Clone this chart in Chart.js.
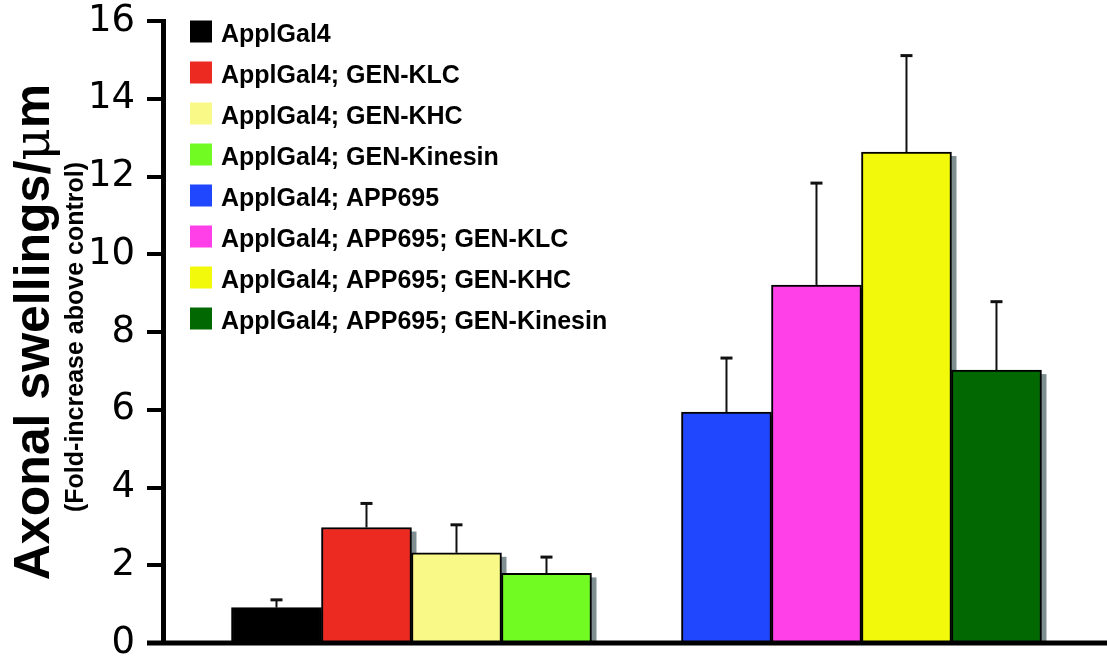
<!DOCTYPE html>
<html>
<head>
<meta charset="utf-8">
<script src="https://cdn.jsdelivr.net/npm/chart.js@4.4.1/dist/chart.umd.min.js"></script>
<style>
  html, body { margin: 0; padding: 0; background: #ffffff; }
  canvas { display: block; }
</style>
</head>
<body>
<canvas id="swellings" width="1107" height="662"></canvas>
<script>
// Genotypes, in the order the bars are drawn
const genotypes = [
  'ApplGal4',
  'ApplGal4; GEN-KLC',
  'ApplGal4; GEN-KHC',
  'ApplGal4; GEN-Kinesin',
  'ApplGal4; APP695',
  'ApplGal4; APP695; GEN-KLC',
  'ApplGal4; APP695; GEN-KHC',
  'ApplGal4; APP695; GEN-Kinesin'
];
// Axonal swellings per µm, fold-increase above control
const swellingMeans = [0.91, 2.97, 2.32, 1.79, 5.94, 9.21, 12.63, 7.02];
// Upper error bar lengths
const swellingErrors = [0.20, 0.62, 0.72, 0.42, 1.39, 2.62, 2.48, 1.76];
const barColors = ['#000000', '#ec2a22', '#f9f987', '#72fa23', '#2046fe', '#ff40e8', '#f2f90a', '#026802'];
const yAxisTitle = 'Axonal swellings/';
const yAxisUnit = ['\u03bc', 'm'];
const yAxisSubtitle = '(Fold-increase above control)';

// Layout: two groups of four bars, one empty slot between them
const GROUP_SIZE = 4;
const GROUP_GAP = 1;
const slotOf = i => i + 1 + Math.floor(i / GROUP_SIZE) * GROUP_GAP;

const AXIS_LEFT = 163;
const TICK_MARK = 16;   // visible tick mark length
const LABEL_GAP = 12;   // space between tick label and tick mark
const SHADOW = '#7f8e91';

const shadowPlugin = {
  id: 'barShadows',
  beforeDatasetsDraw(chart) {
    const ctx = chart.ctx;
    ctx.save();
    ctx.fillStyle = SHADOW;
    chart.getDatasetMeta(0).data.forEach(bar => {
      const { x, y, base, width } = bar.getProps(['x', 'y', 'base', 'width'], true);
      ctx.fillRect(x - width / 2 + 5, y + 4, width, base - y - 4);
    });
    ctx.restore();
  }
};

const errorBarPlugin = {
  id: 'errorBars',
  afterDatasetsDraw(chart) {
    const ctx = chart.ctx;
    const yScale = chart.scales.y;
    ctx.save();
    ctx.strokeStyle = '#111111';
    chart.getDatasetMeta(0).data.forEach((bar, i) => {
      const top = yScale.getPixelForValue(swellingMeans[i] + swellingErrors[i]);
      ctx.lineWidth = 2;
      ctx.beginPath();
      ctx.moveTo(bar.x, bar.y);
      ctx.lineTo(bar.x, top);
      ctx.stroke();
      ctx.lineWidth = 3;
      ctx.beginPath();
      ctx.moveTo(bar.x - 6, top);
      ctx.lineTo(bar.x + 6, top);
      ctx.stroke();
    });
    // baseline axis running across the full width
    const y0 = yScale.getPixelForValue(0);
    ctx.fillStyle = '#000000';
    ctx.fillRect(chart.chartArea.left - TICK_MARK, y0 - 2.5, chart.width, 5);
    ctx.restore();
  }
};

const annotationPlugin = {
  id: 'legendAndTitles',
  afterDraw(chart) {
    const ctx = chart.ctx;
    ctx.save();
    // legend column
    ctx.font = 'bold 25px "Liberation Sans", Arial, sans-serif';
    ctx.textBaseline = 'alphabetic';
    ctx.textAlign = 'left';
    genotypes.forEach((name, i) => {
      const cy = 31.5 + i * 41;
      ctx.fillStyle = barColors[i];
      ctx.fillRect(190, cy - 11, 22, 22);
      ctx.fillStyle = '#000000';
      ctx.fillText(name, 221, cy + 10);
    });

    // rotated y-axis titles
    const yScale = chart.scales.y;
    const midY = (yScale.top + yScale.bottom) / 2;
    const bold = 'bold 50px "Liberation Sans", Arial, sans-serif';
    const greek = '50px "DejaVu Serif", serif';
    ctx.font = bold;
    const w1 = ctx.measureText(yAxisTitle).width;
    const w3 = ctx.measureText(yAxisUnit[1]).width;
    ctx.font = greek;
    const w2 = ctx.measureText(yAxisUnit[0]).width;
    const total = w1 + w2 + w3;
    ctx.save();
    ctx.translate(49, midY);
    ctx.rotate(-Math.PI / 2);
    ctx.textAlign = 'left';
    let u = -total / 2;
    ctx.font = bold;
    ctx.fillText(yAxisTitle, u, 0);
    u += w1;
    ctx.font = greek;
    ctx.fillText(yAxisUnit[0], u, 0);
    u += w2;
    ctx.font = bold;
    ctx.fillText(yAxisUnit[1], u, 0);
    ctx.restore();

    ctx.save();
    ctx.translate(83, midY + 5);
    ctx.rotate(-Math.PI / 2);
    ctx.textAlign = 'center';
    ctx.font = 'bold 25px "Liberation Sans", Arial, sans-serif';
    ctx.fillText(yAxisSubtitle, 0, 0);
    ctx.restore();
    ctx.restore();
  }
};

new Chart(document.getElementById('swellings'), {
  type: 'bar',
  data: {
    datasets: [{
      data: swellingMeans.map((v, i) => ({ x: slotOf(i), y: v })),
      backgroundColor: barColors,
      borderColor: '#000000',
      borderWidth: 2,
      barPercentage: 1,
      categoryPercentage: 1
    }]
  },
  options: {
    responsive: false,
    animation: false,
    devicePixelRatio: 1,
    layout: { padding: { top: 21, bottom: 19, left: 0, right: 0 } },
    plugins: {
      legend: { display: false },
      tooltip: { enabled: false }
    },
    scales: {
      x: {
        type: 'linear',
        display: false,
        min: -0.261,
        max: 10.228,
        afterBuildTicks: scale => { scale.ticks = []; }
      },
      y: {
        min: 0,
        max: 16,
        ticks: {
          stepSize: 2,
          color: '#000000',
          padding: 0,
          font: { family: '"DejaVu Sans", Verdana, sans-serif', size: 37, lineHeight: 1 }
        },
        grid: {
          drawOnChartArea: false,
          drawTicks: true,
          tickLength: TICK_MARK + LABEL_GAP,
          tickBorderDash: [TICK_MARK, LABEL_GAP],
          tickBorderDashOffset: TICK_MARK,
          lineWidth: 4,
          color: '#000000'
        },
        border: { display: true, width: 5, color: '#000000' },
        afterFit: scale => { scale.width = AXIS_LEFT; }
      }
    }
  },
  plugins: [shadowPlugin, errorBarPlugin, annotationPlugin]
});
</script>
</body>
</html>
